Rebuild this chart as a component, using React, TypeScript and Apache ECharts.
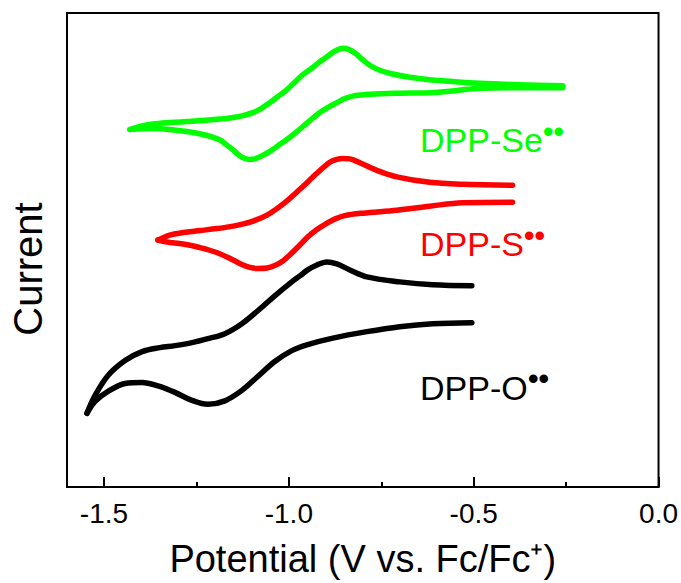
import React, { useEffect, useRef } from 'react';
import * as echarts from 'echarts';

// Axis ticks (V vs. Fc/Fc+)
const MAJOR_TICKS = [-1.5, -1.0, -0.5, 0.0];
const MINOR_TICKS = [-1.25, -0.75, -0.25];

// DPP-Se (green): forward (oxidative) and reverse sweeps, [potential V, current a.u.]
const seForward = [
  [-1.430, 359], [-1.403, 362], [-1.368, 364.5], [-1.322, 366], [-1.276, 367], [-1.232, 368],
  [-1.186, 369.5], [-1.151, 371], [-1.124, 373], [-1.097, 376], [-1.073, 380.5], [-1.051, 386],
  [-1.030, 392], [-1.005, 399], [-0.984, 406.5], [-0.962, 414], [-0.938, 420.5], [-0.916, 427],
  [-0.897, 432], [-0.881, 436.5], [-0.868, 439], [-0.854, 440.5], [-0.838, 439.5], [-0.822, 436],
  [-0.803, 430], [-0.781, 423.5], [-0.754, 418.5], [-0.722, 415], [-0.673, 411.5], [-0.619, 409],
  [-0.551, 407], [-0.484, 405.5], [-0.376, 404], [-0.259, 403],
];
const seReverse = [
  [-0.259, 401], [-0.376, 401], [-0.484, 400.5], [-0.551, 398], [-0.619, 396], [-0.700, 395.5],
  [-0.781, 394.5], [-0.822, 393], [-0.849, 390], [-0.870, 386], [-0.895, 381], [-0.916, 376],
  [-0.938, 369.5], [-0.962, 362], [-0.984, 355], [-1.005, 349], [-1.030, 342.5], [-1.051, 337],
  [-1.073, 332.5], [-1.092, 329.5], [-1.105, 329], [-1.119, 330], [-1.132, 332.5], [-1.151, 338.5],
  [-1.170, 344], [-1.186, 348.5], [-1.208, 351.5], [-1.232, 354], [-1.276, 357], [-1.322, 359],
  [-1.368, 360], [-1.430, 359],
];

// DPP-S (red)
const sForward = [
  [-1.354, 248], [-1.322, 253], [-1.286, 255.5], [-1.241, 257.5], [-1.195, 259.5], [-1.151, 262],
  [-1.105, 266], [-1.059, 273], [-1.016, 284], [-0.970, 299], [-0.924, 315], [-0.889, 326],
  [-0.870, 329], [-0.854, 330], [-0.835, 329.5], [-0.816, 327], [-0.762, 318], [-0.708, 311.5],
  [-0.619, 306], [-0.530, 304], [-0.395, 303],
];
const sReverse = [
  [-0.395, 286], [-0.530, 285.5], [-0.619, 282], [-0.708, 278], [-0.800, 275], [-0.849, 272.5],
  [-0.876, 269], [-0.903, 263.5], [-0.924, 258.5], [-0.949, 251], [-0.970, 243], [-0.992, 235],
  [-1.016, 227], [-1.038, 222.5], [-1.059, 220], [-1.084, 219.5], [-1.105, 220.5], [-1.127, 223.5],
  [-1.151, 228], [-1.195, 235.5], [-1.241, 240.5], [-1.286, 244], [-1.330, 246], [-1.354, 248],
];

// DPP-O (black)
const oForward = [
  [-1.546, 74], [-1.524, 92], [-1.489, 112], [-1.443, 127], [-1.397, 136], [-1.349, 140],
  [-1.308, 142], [-1.262, 145], [-1.219, 149], [-1.173, 154], [-1.127, 164], [-1.084, 177],
  [-1.038, 192], [-0.992, 206], [-0.970, 212], [-0.949, 218], [-0.924, 223], [-0.897, 226],
  [-0.870, 224], [-0.835, 218], [-0.789, 211], [-0.700, 206], [-0.611, 203], [-0.505, 202],
];
const oReverse = [
  [-0.505, 165], [-0.611, 164], [-0.700, 161], [-0.789, 156], [-0.881, 149.5], [-0.949, 143],
  [-0.992, 137], [-1.038, 126], [-1.084, 111], [-1.127, 97], [-1.173, 86.5], [-1.219, 83],
  [-1.262, 87], [-1.308, 95], [-1.354, 101.5], [-1.397, 105], [-1.443, 104], [-1.489, 96],
  [-1.524, 86], [-1.546, 74],
];

const LABELS = ['DPP-Se', 'DPP-S', 'DPP-O'];
const RADICAL = '••';
const COLORS = ['#00ff00', '#ff0000', '#000000'];

const FONT = '"Liberation Sans", Arial, Helvetica, sans-serif';

export default function App() {
  const ref = useRef<HTMLDivElement>(null);

  useEffect(() => {
    const chart = echarts.init(ref.current!, null, { renderer: 'svg' });

    const mk = (name: string, data: number[][], color: string) => ({
      name,
      type: 'line',
      data,
      xAxisIndex: 0,
      yAxisIndex: 0,
      smooth: 0.35,
      symbol: 'none',
      showSymbol: false,
      silent: true,
      lineStyle: { color, width: 5.5, cap: 'round', join: 'round' },
      emphasis: { disabled: true },
    });

    const labelPos = [
      { x: 420, y: 140, dx: 543, dy: 131 },
      { x: 420, y: 244, dx: 524, dy: 235 },
      { x: 420, y: 388, dx: 528, dy: 378 },
    ];

    const graphic: any[] = [];
    LABELS.forEach((t, i) => {
      graphic.push({
        type: 'text',
        x: labelPos[i].x,
        y: labelPos[i].y,
        silent: true,
        style: {
          text: t,
          fill: COLORS[i],
          fontSize: 34,
          fontFamily: FONT,
          align: 'left',
          verticalAlign: 'middle',
        },
      });
      graphic.push({
        type: 'text',
        x: labelPos[i].dx,
        y: labelPos[i].dy,
        silent: true,
        style: {
          text: RADICAL,
          fill: COLORS[i],
          fontSize: 30,
          fontWeight: 'bold',
          fontFamily: FONT,
          align: 'left',
          verticalAlign: 'middle',
        },
      });
    });

    chart.setOption({
      animation: false,
      backgroundColor: '#ffffff',
      textStyle: { fontFamily: FONT },
      grid: {
        left: 67,
        top: 13,
        width: 592,
        height: 476,
        show: true,
        borderColor: '#000',
        borderWidth: 2,
        backgroundColor: 'transparent',
      },
      xAxis: [
        {
          type: 'value',
          min: -1.6,
          max: 0,
          position: 'bottom',
          name: 'Potential (V vs. Fc/Fc⁺)',
          nameLocation: 'middle',
          nameGap: 53,
          nameTextStyle: { fontSize: 38, color: '#000', fontFamily: FONT },
          axisLine: { show: true, onZero: false, lineStyle: { color: '#000', width: 2 } },
          axisTick: {
            show: true,
            inside: true,
            length: 10,
            customValues: MAJOR_TICKS,
            lineStyle: { color: '#000', width: 2 },
          },
          axisLabel: {
            show: true,
            customValues: MAJOR_TICKS,
            formatter: (v: number) => v.toFixed(1),
            fontSize: 28,
            color: '#000',
            margin: 12,
            fontFamily: FONT,
          },
          splitLine: { show: false },
        },
        {
          type: 'value',
          min: -1.6,
          max: 0,
          position: 'bottom',
          axisLine: { show: false },
          axisTick: {
            show: true,
            inside: true,
            length: 5,
            customValues: MINOR_TICKS,
            lineStyle: { color: '#000', width: 2 },
          },
          axisLabel: { show: false },
          splitLine: { show: false },
        },
      ],
      yAxis: {
        type: 'value',
        min: 0,
        max: 476,
        name: 'Current',
        nameLocation: 'middle',
        nameGap: 19,
        nameTextStyle: { fontSize: 40, color: '#000', fontFamily: FONT, padding: [0, 38, 0, 0] },
        axisLine: { show: true, onZero: false, lineStyle: { color: '#000', width: 2 } },
        axisTick: { show: false },
        axisLabel: { show: false },
        splitLine: { show: false },
      },
      graphic,
      series: [
        mk('DPP-Se forward', seForward, COLORS[0]),
        mk('DPP-Se reverse', seReverse, COLORS[0]),
        mk('DPP-S forward', sForward, COLORS[1]),
        mk('DPP-S reverse', sReverse, COLORS[1]),
        mk('DPP-O forward', oForward, COLORS[2]),
        mk('DPP-O reverse', oReverse, COLORS[2]),
      ],
    });

    return () => chart.dispose();
  }, []);

  return (
    <div
      ref={ref}
      style={{ position: 'fixed', left: 0, top: 0, width: 681, height: 583, background: '#fff' }}
    />
  );
}
